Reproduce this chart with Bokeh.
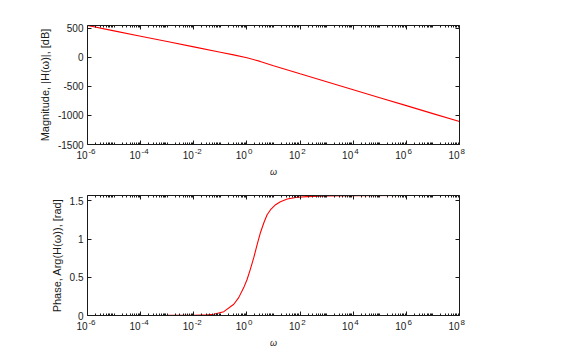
from bokeh.plotting import figure
from bokeh.layouts import column
from bokeh.models import (LogAxis, LinearAxis, FixedTicker, CustomJSTickFormatter,
                          Range1d)
from bokeh.embed import file_html
from bokeh.resources import INLINE

# ---- data ----
mag_w = [1e-6, 1e-5, 1e-4, 1e-3, 1e-2, 1e-1, 3.16e-1, 1e0, 3.16e0, 1e1,
         1e2, 1e3, 1e4, 1e5, 1e6, 1e7, 1e8]
mag_db = [545, 453, 361, 270, 178, 86, 40, -10, -72, -145,
          -284, -421, -558, -695, -832, -969, -1106]

ph_w = [1e-6, 1e-4, 1e-3, 1e-2, 3.16e-2, 5.6e-2, 1.35e-1, 3.2e-1, 4.9e-1,
        7.6e-1, 1.02, 1.35, 1.82, 2.45, 3.24, 4.37, 5.75, 7.76, 12.0, 18.2,
        33.1, 77.6, 186.0, 1e3, 1e4, 1e6, 1e8]
ph_rad = [0.0, 0.0, 0.001, 0.004, 0.008, 0.016, 0.05, 0.147, 0.234,
          0.365, 0.475, 0.606, 0.76, 0.934, 1.087, 1.218, 1.319, 1.385, 1.45, 1.49,
          1.525, 1.547, 1.556, 1.565, 1.569, 1.5705, 1.5708]

x_major = [1e-6, 1e-4, 1e-2, 1e0, 1e2, 1e4, 1e6, 1e8]
mag_ticks = [-1500, -1000, -500, 0, 500]
ph_ticks = [0, 0.5, 1, 1.5]

x_minor = []
for n in range(-6, 8):
    for k in range(1, 10):
        v = k * 10.0 ** n
        if not (k == 1 and n % 2 == 0):
            x_minor.append(v)

FONT = "Liberation Sans"
AX = "#1a1a1a"


def blank():
    return CustomJSTickFormatter(code="return '';")


# exponent part of the "10^n" tick labels (shifted right of the tick)
exp_fmt = CustomJSTickFormatter(code="""
const s = String(Math.round(Math.log10(tick)));
const pad = s.length > 1 ? '\\u00a0\\u00a0\\u00a0\\u00a0' : '\\u00a0\\u00a0\\u00a0';
return pad + s;
""")
# base part "10" (shifted left of the tick)
base_fmt = CustomJSTickFormatter(code="return '10\\u00a0\\u00a0\\u00a0\\u00a0';")


def style_axis(ax, size="10px"):
    ax.axis_line_color = AX
    ax.major_tick_line_color = AX
    ax.minor_tick_line_color = AX
    ax.major_tick_in = 4
    ax.major_tick_out = 0
    ax.minor_tick_in = 2
    ax.minor_tick_out = 0
    ax.major_label_text_font = FONT
    ax.major_label_text_font_size = size
    ax.major_label_text_color = AX
    ax.axis_label_text_font = FONT
    ax.axis_label_text_font_size = "11px"
    ax.axis_label_text_font_style = "normal"
    ax.axis_label_text_color = AX


def make(ylab, yr, yticks, top, bottom, height, xs, ys):
    p = figure(width=581, height=height, x_axis_type="log",
               x_range=Range1d(1e-6, 1e8), y_range=Range1d(*yr),
               output_backend="svg", toolbar_location=None,
               min_border_left=87, min_border_right=122,
               min_border_top=top, min_border_bottom=bottom)
    p.grid.visible = False
    p.outline_line_color = None
    p.background_fill_color = "white"
    p.border_fill_color = "white"
    p.line(xs, ys, line_color="#ff0000", line_width=1.1)

    xt = FixedTicker(ticks=x_major, minor_ticks=x_minor)
    yt = FixedTicker(ticks=yticks, minor_ticks=[])

    # axis next to the frame: ticks + exponents
    xa = p.xaxis[0]
    xa.ticker = xt
    xa.formatter = exp_fmt
    style_axis(xa, "8px")
    xa.major_label_standoff = 2

    # second axis: "10" bases and the omega label
    xb = LogAxis(ticker=FixedTicker(ticks=x_major, minor_ticks=[]),
                 formatter=base_fmt)
    style_axis(xb, "10px")
    xb.axis_line_color = None
    xb.major_tick_line_color = None
    xb.minor_tick_line_color = None
    xb.major_tick_in = 0
    xb.minor_tick_in = 0
    xb.major_label_standoff = -9
    xb.axis_label = "\u03c9"
    xb.axis_label_text_font_style = "italic"
    xb.axis_label_text_font_size = "9px"
    xb.axis_label_standoff = 3
    p.add_layout(xb, "below")

    ya = p.yaxis[0]
    ya.ticker = yt
    ya.formatter = CustomJSTickFormatter(code="return String(tick);")
    style_axis(ya)
    ya.major_label_standoff = 4
    ya.axis_label = ylab
    ya.axis_label_standoff = 4

    ta = LogAxis(ticker=xt, formatter=blank())
    style_axis(ta, "0px")
    ta.major_label_standoff = 0
    p.add_layout(ta, "above")

    ra = LinearAxis(ticker=yt, formatter=blank())
    style_axis(ra, "0px")
    ra.major_label_standoff = 0
    p.add_layout(ra, "right")
    return p


p1 = make("Magnitude, |H(\u03c9)|, [dB]", (-1500, 545), mag_ticks, 25, 38, 182,
          mag_w, mag_db)
p2 = make("Phase, Arg(H(\u03c9)), [rad]", (0, 1.5708), ph_ticks, 13, 39, 172,
          ph_w, ph_rad)

p = column(p1, p2, spacing=0)
open("out.html", "w").write(file_html(p, INLINE))
